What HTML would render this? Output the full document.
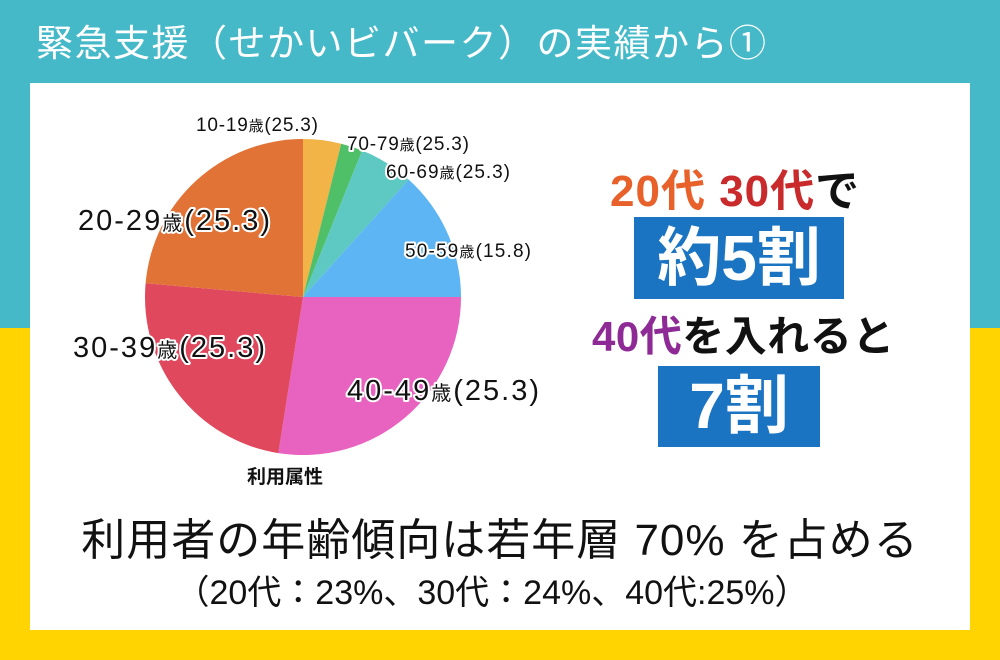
<!DOCTYPE html>
<html><head><meta charset="utf-8"><style>
body{margin:0;width:1000px;height:660px;overflow:hidden;background:#ffd400;font-family:"Liberation Sans","Noto Sans CJK JP",sans-serif;position:relative}
.t{position:absolute;white-space:nowrap}
</style></head><body>
<div style="position:absolute;left:0;top:0;width:1000px;height:328px;background:#46b9c9"></div>
<div class="t" style="left:36px;top:23px;font-size:37px;line-height:42px;color:#fff;letter-spacing:1.5px">緊急支援（せかいビバーク）の実績から①</div>
<div style="position:absolute;left:30px;top:83px;width:940px;height:547px;background:#fff"></div>
<svg style="position:absolute;left:0;top:0" width="1000" height="660">
<path d="M303,297 L303,139 A158,158 0 0 1 341.2,143.7Z" fill="#f2b347"/>
<path d="M303,297 L341.2,143.7 A158,158 0 0 1 362.2,150.5Z" fill="#4fbf68"/>
<path d="M303,297 L362.2,150.5 A158,158 0 0 1 408.7,179.6Z" fill="#5ec8c2"/>
<path d="M303,297 L408.7,179.6 A158,158 0 0 1 461,297Z" fill="#5db5f3"/>
<path d="M303,297 L461,297 A158,158 0 0 1 278.3,453.1Z" fill="#e863bf"/>
<path d="M303,297 L278.3,453.1 A158,158 0 0 1 145.6,283.2Z" fill="#e0485e"/>
<path d="M303,297 L145.6,283.2 A158,158 0 0 1 303,139Z" fill="#e27336"/>
<g font-family="Liberation Sans,Noto Sans CJK JP,sans-serif" fill="#111" stroke="#fff" stroke-width="4" paint-order="stroke" stroke-linejoin="round">
<text x="196" y="131" font-size="19" textLength="122">10-19<tspan font-size="15">歳</tspan>(25.3)</text>
<text x="347" y="150" font-size="19" textLength="122">70-79<tspan font-size="15">歳</tspan>(25.3)</text>
<text x="386" y="178" font-size="19" textLength="124">60-69<tspan font-size="15">歳</tspan>(25.3)</text>
<text x="405" y="257" font-size="19" textLength="126">50-59<tspan font-size="15">歳</tspan>(15.8)</text>
<text x="78" y="230" font-size="29" textLength="192">20-29<tspan font-size="20">歳</tspan>(25.3)</text>
<text x="73" y="357" font-size="29" textLength="192">30-39<tspan font-size="20">歳</tspan>(25.3)</text>
<text x="347" y="400" font-size="29" textLength="192">40-49<tspan font-size="20">歳</tspan>(25.3)</text>
<text x="247" y="483" font-size="19" font-weight="bold" stroke="none">利用属性</text>
</g>
</svg>
<div class="t" style="left:610px;top:168px;font-size:44px;font-weight:bold;line-height:48px;letter-spacing:1px"><span style="color:#e8612b">20代</span> <span style="color:#c92a2c">30代</span><span style="color:#111">で</span></div>
<div style="position:absolute;left:634px;top:217px;width:210px;height:82px;background:#1b74c1;color:#fff;font-size:64px;font-weight:bold;text-align:center;line-height:82px">約5割</div>
<div class="t" style="left:592px;top:313px;font-size:42px;font-weight:bold;line-height:48px;letter-spacing:0.5px"><span style="color:#8e2a95">40代</span><span style="color:#111">を入れると</span></div>
<div style="position:absolute;left:658px;top:366px;width:162px;height:81px;background:#1b74c1;color:#fff;font-size:64px;font-weight:bold;text-align:center;line-height:81px">7割</div>
<div class="t" style="left:0;width:1000px;text-align:center;top:515px;font-size:44px;line-height:52px;color:#111;letter-spacing:1px">利用者の年齢傾向は若年層 70% を占める</div>
<div class="t" style="left:0;width:984px;text-align:center;top:572px;font-size:34px;line-height:42px;color:#111">（20代：23%、30代：24%、40代:25%）</div>
</body></html>
